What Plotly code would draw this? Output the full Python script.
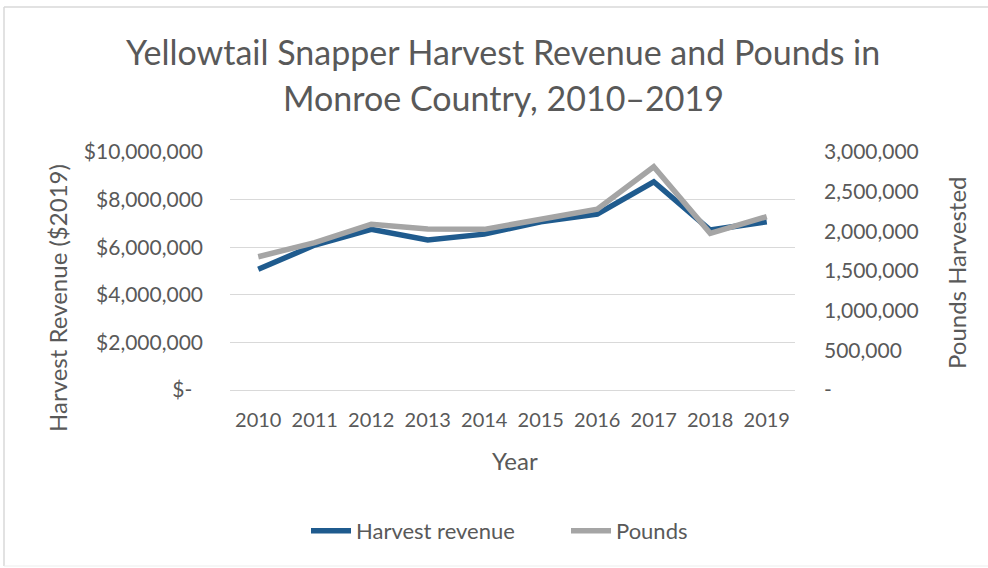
import plotly.graph_objects as go

# Yellowtail snapper harvest, Monroe County, 2010-2019
years = ["2010", "2011", "2012", "2013", "2014", "2015", "2016", "2017", "2018", "2019"]
revenue = [5070000, 6090000, 6750000, 6300000, 6550000, 7070000, 7390000, 8750000, 6720000, 7070000]
pounds = [1680000, 1857000, 2090000, 2030000, 2025000, 2160000, 2280000, 2815000, 1975000, 2185000]

rev_ticks = [0, 2000000, 4000000, 6000000, 8000000, 10000000]
rev_tick_text = ["$-\u00a0\u00a0", "$2,000,000", "$4,000,000", "$6,000,000", "$8,000,000", "$10,000,000"]
lb_ticks = [0, 500000, 1000000, 1500000, 2000000, 2500000, 3000000]
lb_tick_text = ["-", "500,000", "1,000,000", "1,500,000", "2,000,000", "2,500,000", "3,000,000"]

FONT = "Lato"
TXT = "#595959"
GRID = "#D9D9D9"
W, H = 988, 568
L, R, T, B = 230, 193, 152, 178
PW, PH = W - L - R, H - T - B


def px(x):
    return (x - L) / PW


def py(y):
    return (H - B - y) / PH


fig = go.Figure()
fig.add_trace(go.Scatter(
    x=years, y=revenue, name="Harvest revenue", mode="lines",
    line=dict(color="#1F5B8E", width=5.5), yaxis="y",
))
fig.add_trace(go.Scatter(
    x=years, y=pounds, name="Pounds", mode="lines",
    line=dict(color="#A5A5A5", width=5.5), yaxis="y2",
))

annotations = [
    dict(text="Yellowtail Snapper Harvest Revenue and Pounds in", x=px(503), y=py(52),
         font=dict(size=34, color=TXT, family=FONT)),
    dict(text="Monroe Country, 2010\u20132019", x=px(503), y=py(98),
         font=dict(size=34, color=TXT, family=FONT)),
    dict(text="Harvest Revenue ($2019)", x=px(57), y=py(298), textangle=-90,
         font=dict(size=24, color=TXT, family=FONT)),
    dict(text="Pounds Harvested", x=px(956), y=py(273), textangle=-90,
         font=dict(size=24, color=TXT, family=FONT)),
    dict(text="Year", x=px(515), y=py(460),
         font=dict(size=24, color=TXT, family=FONT)),
]
for a in annotations:
    a.update(xref="paper", yref="paper", showarrow=False, xanchor="center", yanchor="middle")

# chart-area frame
frame = dict(type="line", xref="paper", yref="paper", line=dict(color=GRID, width=1.5), layer="below")
shapes = [
    dict(frame, x0=px(4), x1=px(4), y0=py(7), y1=py(566)),
    dict(frame, x0=px(4), x1=px(988), y0=py(7), y1=py(7)),
    dict(frame, x0=px(4), x1=px(988), y0=py(566), y1=py(566), line=dict(color="#EDEDED", width=1)),
]

fig.update_layout(
    width=W, height=H,
    margin=dict(l=L, r=R, t=T, b=B),
    paper_bgcolor="white", plot_bgcolor="white",
    font=dict(family=FONT, color=TXT, size=20),
    showlegend=True,
    legend=dict(orientation="h", x=px(306), xanchor="left", y=py(531), yanchor="middle",
                font=dict(size=22, color=TXT, family=FONT), traceorder="normal",
                itemwidth=40, entrywidth=205, entrywidthmode="pixels",
                bgcolor="rgba(0,0,0,0)"),
    xaxis=dict(type="category", categoryorder="array", categoryarray=years,
               range=[-0.5, 9.5], showgrid=False, showline=True, linecolor=GRID, linewidth=1,
               ticks="", ticklabelstandoff=12, tickfont=dict(size=20, color=TXT, family=FONT)),
    yaxis=dict(range=[0, 10000000], tickvals=rev_ticks, ticktext=rev_tick_text,
               showgrid=True, gridcolor=GRID, gridwidth=1, zeroline=False, showline=False,
               ticks="", ticklabelstandoff=26, tickfont=dict(size=21, color=TXT, family=FONT)),
    yaxis2=dict(range=[0, 3000000], tickvals=lb_ticks, ticktext=lb_tick_text,
                overlaying="y", side="right", showgrid=False, zeroline=False, showline=False,
                ticks="", ticklabelstandoff=28, tickfont=dict(size=21, color=TXT, family=FONT)),
    annotations=annotations,
    shapes=shapes,
)

fig.write_html("out.html")
